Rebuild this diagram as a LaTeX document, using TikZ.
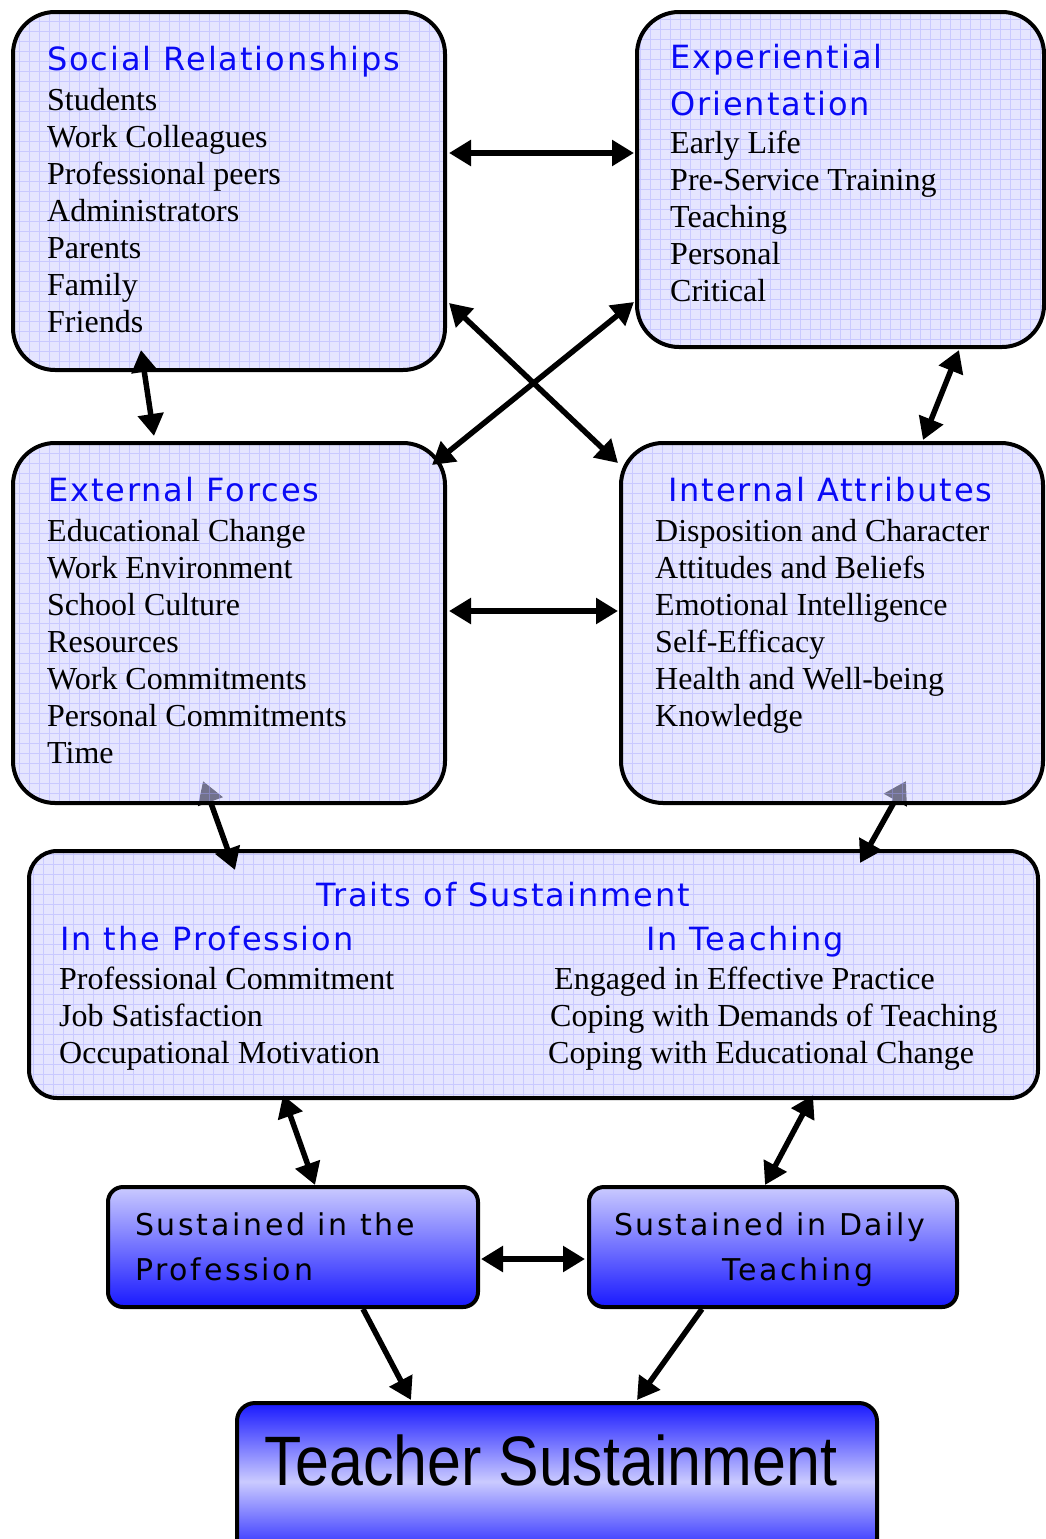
\documentclass[tikz,border=0pt]{standalone}
\usepackage{fontspec}
\setmainfont{Liberation Serif}
\newfontfamily\headfont[LetterSpace=6]{DejaVu Sans}
\newfontfamily\sustfont[LetterSpace=9]{DejaVu Sans}
\newfontfamily\narrowfont[FakeStretch=0.87]{Liberation Sans}
\usetikzlibrary{arrows.meta,calc}

\definecolor{boxfill}{RGB}{208,208,255}
\definecolor{gridblue}{RGB}{160,160,255}
\definecolor{titleblue}{RGB}{10,10,245}
\definecolor{paleblue}{RGB}{202,202,255}
\definecolor{deepblue}{RGB}{25,25,255}

\pgfdeclarelayer{under}
\pgfdeclarelayer{traits}
\pgfdeclarelayer{mid}
\pgfsetlayers{under,traits,mid,main}

\tikzset{
  gridline/.style={draw=gridblue, line width=0.6pt, draw opacity=0.4, step=10pt},
  bigbox/.style={draw=black, line width=4pt, rounded corners=42pt, fill=boxfill, fill opacity=0.55,
    path picture={\draw[gridline] (path picture bounding box.south west) grid (path picture bounding box.north east);}},
  bluebox/.style={draw=black, line width=4pt, rounded corners=15pt, top color=paleblue, bottom color=deepblue},
  head/.style={anchor=base west, inner sep=0pt, text=titleblue, font=\headfont\fontsize{32}{38}\selectfont},
  item/.style={anchor=base west, inner sep=0pt, font=\fontsize{32}{37}\selectfont},
  sust/.style={anchor=base west, inner sep=0pt, font=\sustfont\fontsize{30}{36}\selectfont},
  link/.style={line width=5.5pt, >={Triangle[length=22pt,width=25pt]}, <->},
  feed/.style={link, ->}
}

\begin{document}
\begin{tikzpicture}[x=1pt,y=-1pt]
\useasboundingbox (0,0) rectangle (1045,1539);

\node[bigbox, minimum width=432pt, minimum height=358pt] (sr) at (229,191) {};
\node[bigbox, minimum width=407pt, minimum height=335pt] (eo) at (840.5,179.5) {};
\node[bigbox, minimum width=432pt, minimum height=360pt] (ef) at (229,623) {};
\node[bigbox, minimum width=422pt, minimum height=360pt] (ia) at (832,623) {};
\begin{pgfonlayer}{traits}
\node[bigbox, rounded corners=28pt, minimum width=1009pt, minimum height=247pt] (ts) at (533.5,974.5) {};
\end{pgfonlayer}
\node[bluebox, minimum width=370pt, minimum height=120pt] (sp) at (293,1247) {};
\node[bluebox, minimum width=368pt, minimum height=120pt] (sd) at (773,1247) {};
\node[bluebox, rounded corners=18pt, top color=deepblue, bottom color=deepblue, middle color=paleblue,
  minimum width=640pt, minimum height=157pt] (tsus) at (557,1481.5) {};

\node[head] (srhead) at (47,70) {Social Relationships};
\foreach \txt [count=\i from 0] in {Students,Work Colleagues,Professional peers,Administrators,Parents,Family,Friends}
{
  \node[item] (sr\i) at (47,110+37*\i) {\txt};
}

\node[head] (eohead) at (670,68) {Experiential};
\node[head] (eohead2) at (670,115) {Orientation};
\foreach \txt [count=\i from 0] in {Early Life,Pre-Service Training,Teaching,Personal,Critical}
{
  \node[item] (eo\i) at (670,153+37*\i) {\txt};
}

\node[head] (efhead) at (48,501) {External Forces};
\foreach \txt [count=\i from 0] in {Educational Change,Work Environment,School Culture,Resources,Work Commitments,Personal Commitments,Time}
{
  \node[item] (ef\i) at (47,541+37*\i) {\txt};
}

\node[head] (iahead) at (668,501) {Internal Attributes};
\foreach \txt [count=\i from 0] in {Disposition and Character,Attitudes and Beliefs,Emotional Intelligence,Self-Efficacy,Health and Well-being,Knowledge}
{
  \node[item] (ia\i) at (655,541+37*\i) {\txt};
}

\node[head] (tshead) at (316,906) {Traits of Sustainment};
\node[head] (profhead) at (60,950) {In the Profession};
\node[head] (teachhead) at (646,950) {In Teaching};
\foreach \txt [count=\i from 0] in {Professional Commitment,Job Satisfaction,Occupational Motivation}
{
  \node[item] (prof\i) at (59,989+37*\i) {\txt};
}
\node[item] (teach0) at (554,989) {Engaged in Effective Practice};
\node[item] (teach1) at (550,1026) {Coping with Demands of Teaching};
\node[item] (teach2) at (548,1063) {Coping with Educational Change};

\node[sust] (sptext) at (135,1235) {Sustained in the};
\node[sust] (sptext2) at (135,1280) {Profession};
\node[sust] (sdtext) at (614,1235) {Sustained in Daily};
\node[sust] (sdtext2) at (722,1280) {Teaching};
\node[anchor=base, inner sep=0pt, font=\narrowfont\fontsize{70}{80}\selectfont] (tsustext) at (551,1485) {Teacher Sustainment};

\begin{pgfonlayer}{under}
\draw[link] ($(ts.south west)+(256,-5)$) -- ($(sp.north west)+(209,0)$);
\draw[link] ($(ts.south east)+(-227,-5)$) -- ($(sd.north west)+(178,0)$);
\end{pgfonlayer}
\begin{pgfonlayer}{mid}
\draw[link] ($(ef.south west)+(192,-24)$) -- ($(ts.north west)+(208,21)$);
\draw[link] ($(ia.south west)+(287,-24)$) -- ($(ts.north west)+(833,14)$);
\end{pgfonlayer}

\draw[link] ($(sr.north east)+(2,143)$) -- ($(eo.north west)+(-1,143)$);
\draw[link] ($(sr.south west)+(130,-22)$) -- ($(ef.north west)+(143,-5)$);
\draw[link] ($(sr.south east)+(2,-69)$) -- ($(ia.north west)+(-1,22)$);
\draw[link] ($(eo.south west)+(-1,-47)$) -- ($(ef.north east)+(-15,24)$);
\draw[link] ($(eo.south east)+(-87,1)$) -- ($(ia.north west)+(304,-1)$);
\draw[link] ($(ef.north east)+(2,170)$) -- ($(ia.north west)+(-1,170)$);
\draw[link] ($(sp.east)+(1,12)$) -- ($(sd.west)+(-2,12)$);
\draw[feed] ($(sp.south west)+(257,0)$) -- ($(tsus.north west)+(176,-1)$);
\draw[feed] ($(sd.south west)+(115,0)$) -- ($(tsus.north west)+(402,-1)$);
\end{tikzpicture}
\end{document}
